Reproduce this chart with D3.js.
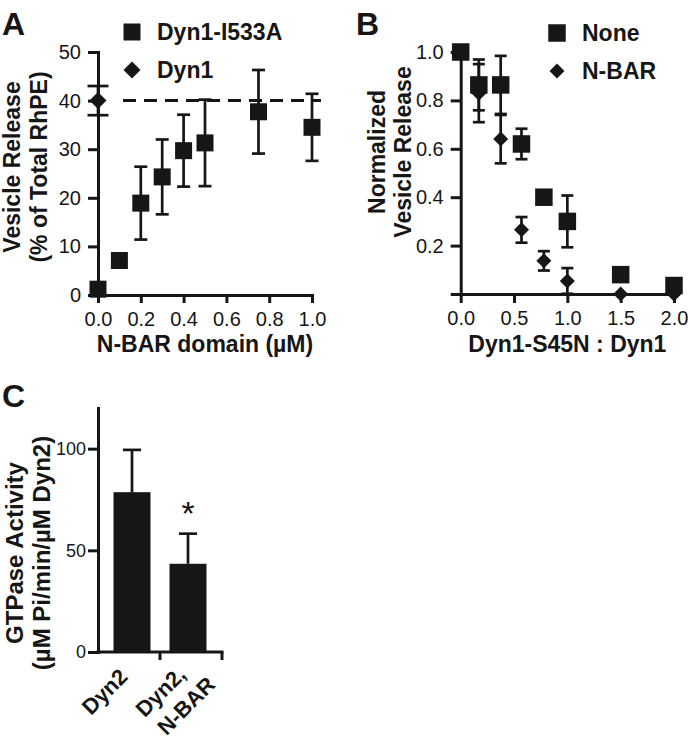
<!DOCTYPE html>
<html><head><meta charset="utf-8">
<script src="https://cdn.jsdelivr.net/npm/d3@7"></script>
<style>body{margin:0;background:#fff} svg{display:block}</style>
</head><body>
<svg id="chart" width="688" height="742"></svg>
<script>
// ---------- Panel A data ----------
const aConc = [0, 0.1, 0.2, 0.3, 0.4, 0.5, 0.75, 1.0];
const aRelease = [1.2, 7.1, 18.9, 24.3, 29.7, 31.3, 37.7, 34.5];
const aError = [0, 0.8, 7.5, 7.7, 7.4, 8.9, 8.6, 6.9];
const aDyn1Conc = 0;
const aDyn1Release = 40;
const aDyn1Error = 3;
const aYTicks = [0, 10, 20, 30, 40, 50];
const aXTicks = [0, 0.2, 0.4, 0.6, 0.8, 1.0];
const aSeries = ["Dyn1-I533A", "Dyn1"];

// ---------- Panel B data ----------
const bRatio = [0, 0.17, 0.375, 0.57, 0.78, 1.0, 1.5, 2.0];
const bNone = [1.0, 0.864, 0.864, 0.62, 0.40, 0.30, 0.08, 0.035];
const bNoneErr = [0, 0.105, 0.12, 0.063, 0, 0.107, 0, 0];
const bNbar = [1.0, 0.83, 0.64, 0.265, 0.137, 0.054, 0.0, 0.0];
const bNbarErr = [0, 0.12, 0.10, 0.053, 0.04, 0.053, 0, 0];
const bYTicks = [0, 0.2, 0.4, 0.6, 0.8, 1.0];
const bXTicks = [0, 0.5, 1.0, 1.5, 2.0];
const bSeries = ["None", "N-BAR"];

// ---------- Panel C data ----------
const cConditions = ["Dyn2", "Dyn2, N-BAR"];
const cLabelLines = [["Dyn2"], ["Dyn2,", "N-BAR"]];
const cActivity = [78.6, 43.4];
const cError = [20.8, 14.8];
const cSignificant = [false, true];
const cYTicks = [0, 50, 100];

// ---------- drawing ----------
const INK = "#161616";
const FONT = "'Liberation Sans', Arial, Helvetica, sans-serif";
const svg = d3.select("#chart").style("font-family", FONT);

function styleAxis(g, fontSize) {
  g.select(".domain").attr("stroke", INK).attr("stroke-width", 3).attr("stroke-linecap", "square");
  g.selectAll(".tick line").attr("stroke", INK).attr("stroke-width", 3);
  g.selectAll(".tick text").attr("fill", INK).style("font-size", fontSize + "px").style("font-family", FONT);
}

const squareSym = (s) => d3.symbol().type(d3.symbolSquare).size(s * s)();
const diamondSym = (d) => d3.symbol().type(d3.symbolSquare).size((d / Math.SQRT2) ** 2)();

function errBars(g, xs, ys, es, xScale, yScale, capW) {
  xs.forEach((x, i) => {
    if (!es[i]) return;
    const px = xScale(x), y0 = yScale(ys[i] - es[i]), y1 = yScale(ys[i] + es[i]);
    g.append("line").attr("x1", px).attr("x2", px).attr("y1", y0).attr("y2", y1)
      .attr("stroke", INK).attr("stroke-width", 2.7);
    [y0, y1].forEach(yy => g.append("line").attr("x1", px - capW / 2).attr("x2", px + capW / 2)
      .attr("y1", yy).attr("y2", yy).attr("stroke", INK).attr("stroke-width", 2.7));
  });
}

function panelLetter(t, x, y) {
  svg.append("text").attr("x", x).attr("y", y).text(t)
    .attr("fill", INK).style("font-size", "32px").style("font-weight", "bold");
}

function yTitle(lines, xs, yc, size) {
  lines.forEach((l, i) => {
    svg.append("text").attr("transform", `translate(${xs[i]},${yc}) rotate(-90)`)
      .attr("text-anchor", "middle").text(l).attr("fill", INK)
      .style("font-size", size + "px").style("font-weight", "bold");
  });
}

function legendItem(sym, label, x, y, rot) {
  svg.append("path").attr("d", sym).attr("transform", `translate(${x},${y})` + (rot ? " rotate(45)" : "")).attr("fill", INK);
  svg.append("text").attr("x", x + 25).attr("y", y + 8).text(label)
    .attr("fill", INK).style("font-size", "23px").style("font-weight", "bold");
}

// ===== Panel A =====
const xA = d3.scaleLinear().domain([0, 1]).range([98, 312]);
const yA = d3.scaleLinear().domain([0, 50]).range([295, 52]);
const gA = svg.append("g");
gA.append("g").attr("transform", "translate(0,295)")
  .call(d3.axisBottom(xA).tickValues(aXTicks).tickFormat(d3.format(".1f")).tickSize(8).tickSizeOuter(0).tickPadding(9))
  .call(g => styleAxis(g, 20));
gA.append("g").attr("transform", "translate(98,0)")
  .call(d3.axisLeft(yA).tickValues(aYTicks).tickSize(10).tickSizeOuter(0).tickPadding(7))
  .call(g => styleAxis(g, 20));
// dashed reference line for Dyn1
gA.append("line").attr("x1", xA(aDyn1Conc) + 25).attr("x2", xA(1) + 9)
  .attr("y1", yA(aDyn1Release)).attr("y2", yA(aDyn1Release))
  .attr("stroke", INK).attr("stroke-width", 3).attr("stroke-dasharray", "13,8");
errBars(gA, [aDyn1Conc], [aDyn1Release], [aDyn1Error], xA, yA, 21);
errBars(gA, aConc, aRelease, aError, xA, yA, 13);
gA.selectAll(".sq").data(aConc).enter().append("path").attr("d", squareSym(17))
  .attr("transform", (d, i) => `translate(${xA(d)},${yA(aRelease[i])})`).attr("fill", INK);
gA.append("path").attr("d", diamondSym(17))
  .attr("transform", `translate(${xA(aDyn1Conc)},${yA(aDyn1Release)}) rotate(45)`).attr("fill", INK);
gA.append("text").attr("x", (xA(0) + xA(1)) / 2).attr("y", 352).attr("text-anchor", "middle")
  .text("N-BAR domain (µM)").attr("fill", INK).style("font-size", "23px").style("font-weight", "bold");
yTitle(["Vesicle Release", "(% of Total RhPE)"], [20, 47], 167, 23);
panelLetter("A", 2, 35);
legendItem(squareSym(17), aSeries[0], 132, 32, false);
legendItem(diamondSym(17), aSeries[1], 132, 70, true);

// ===== Panel B =====
const xB = d3.scaleLinear().domain([0, 2]).range([460.7, 674]);
const yB = d3.scaleLinear().domain([0, 1]).range([294, 52]);
const gB = svg.append("g");
gB.append("g").attr("transform", "translate(0,294)")
  .call(d3.axisBottom(xB).tickValues(bXTicks).tickFormat(d3.format(".1f")).tickSize(9).tickSizeOuter(0).tickPadding(8))
  .call(g => styleAxis(g, 20));
gB.append("g").attr("transform", "translate(460.7,0)")
  .call(d3.axisLeft(yB).tickValues(bYTicks).tickFormat(d => d === 0 ? "" : d3.format(".1f")(d)).tickSize(10).tickSizeOuter(0).tickPadding(7))
  .call(g => styleAxis(g, 20));
errBars(gB, bRatio, bNbar, bNbarErr, xB, yB, 12);
errBars(gB, bRatio, bNone, bNoneErr, xB, yB, 12);
gB.selectAll(".sq").data(bRatio).enter().append("path").attr("d", squareSym(17.5))
  .attr("transform", (d, i) => `translate(${xB(d)},${yB(bNone[i])})`).attr("fill", INK);
gB.selectAll(".dm").data(bRatio).enter().append("path").attr("d", diamondSym(15))
  .attr("transform", (d, i) => `translate(${xB(d)},${yB(bNbar[i])}) rotate(45)`).attr("fill", INK);
gB.append("text").attr("x", (xB(0) + xB(2)) / 2).attr("y", 352).attr("text-anchor", "middle")
  .text("Dyn1-S45N : Dyn1").attr("fill", INK).style("font-size", "23px").style("font-weight", "bold");
yTitle(["Normalized", "Vesicle Release"], [385, 411], 152, 23);
panelLetter("B", 356, 35);
legendItem(squareSym(17.5), bSeries[0], 557, 33, false);
legendItem(diamondSym(15), bSeries[1], 557, 71, true);

// ===== Panel C =====
const yC = d3.scaleLinear().domain([0, 120]).range([652, 408]);
const xC = d3.scaleBand().domain(cConditions).range([98, 222]).paddingInner(0.34).paddingOuter(0.277);
const gC = svg.append("g");
gC.selectAll(".bar").data(cConditions).enter().append("rect")
  .attr("x", d => xC(d)).attr("width", xC.bandwidth())
  .attr("y", (d, i) => yC(cActivity[i])).attr("height", (d, i) => yC(0) - yC(cActivity[i]))
  .attr("fill", INK);
cConditions.forEach((c, i) => {
  const cx = xC(c) + xC.bandwidth() / 2, top = yC(cActivity[i] + cError[i]);
  gC.append("line").attr("x1", cx).attr("x2", cx).attr("y1", yC(cActivity[i])).attr("y2", top)
    .attr("stroke", INK).attr("stroke-width", 2.7);
  gC.append("line").attr("x1", cx - 9).attr("x2", cx + 9).attr("y1", top).attr("y2", top)
    .attr("stroke", INK).attr("stroke-width", 2.7);
  if (cSignificant[i]) gC.append("text").attr("x", cx).attr("y", top - 9).attr("text-anchor", "middle")
    .text("*").attr("fill", INK).style("font-size", "34px");
});
gC.append("g").attr("transform", "translate(98,0)")
  .call(d3.axisLeft(yC).tickValues(cYTicks).tickSize(10).tickSizeOuter(0).tickPadding(2))
  .call(g => styleAxis(g, 18));
// category-boundary x axis
const cBounds = cConditions.map((c, i) => i < cConditions.length - 1
  ? (xC(c) + xC.bandwidth() + xC(cConditions[i + 1])) / 2 : xC.range()[1]);
gC.append("line").attr("x1", 98).attr("x2", xC.range()[1]).attr("y1", yC(0)).attr("y2", yC(0))
  .attr("stroke", INK).attr("stroke-width", 3).attr("stroke-linecap", "square");
cBounds.forEach(b => gC.append("line").attr("x1", b).attr("x2", b).attr("y1", yC(0)).attr("y2", yC(0) + 8)
  .attr("stroke", INK).attr("stroke-width", 3));
cConditions.forEach((c, i) => {
  const cx = xC(c) + xC.bandwidth() / 2;
  const t = gC.append("text").attr("transform", `translate(${cx - 22},${yC(0) + 45}) rotate(-45)`)
    .attr("text-anchor", "middle").attr("fill", INK).style("font-size", "22px").style("font-weight", "bold");
  cLabelLines[i].forEach((l, j) => t.append("tspan").attr("x", j * 8).attr("y", j * 28).text(l));
});
yTitle(["GTPase Activity", "(µM Pi/min/µM Dyn2)"], [23, 50], 553, 24);
panelLetter("C", 2, 407);
</script>
</body></html>
